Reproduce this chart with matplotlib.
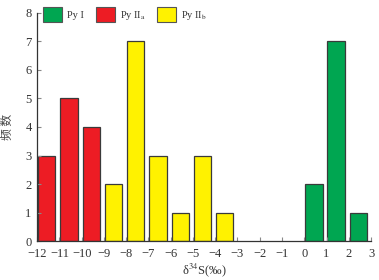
import matplotlib
matplotlib.use("Agg")
import matplotlib.pyplot as plt
from matplotlib.patches import Patch

bin_starts = [-12, -11, -10, -9, -8, -7, -6, -5, -4, 0, 1, 2]
counts = [3, 5, 4, 2, 7, 3, 1, 3, 1, 2, 7, 1]
groups = ["IIa", "IIa", "IIa", "IIb", "IIb", "IIb", "IIb", "IIb", "IIb", "I", "I", "I"]
group_colors = {"I": "#00A651", "IIa": "#ED1C24", "IIb": "#FFF200"}
legend_labels = ["Py I", "Py II$_{\\mathrm{a}}$", "Py II$_{\\mathrm{b}}$"]
legend_keys = ["I", "IIa", "IIb"]
xticks = list(range(-12, 4))
yticks = list(range(0, 9))

plt.rcParams['font.family'] = ['Liberation Serif', 'DejaVu Serif']
plt.rcParams['mathtext.fontset'] = 'stix'

fig = plt.figure(figsize=(3.79, 2.80), dpi=100)
ax = fig.add_axes([0.098, 0.139, 0.881, 0.815])

ax.bar([b + 0.04 for b in bin_starts], counts, width=0.78, align='edge',
       color=[group_colors[g] for g in groups], edgecolor='#3a3a3a', linewidth=0.9)

ax.set_xlim(-12, 3)
ax.set_ylim(0, 8)
ax.set_xticks(xticks)
ax.set_xticklabels([("\u2212" + str(-t)) if t < 0 else str(t) for t in xticks])
ax.set_yticks(yticks)
for s in ['top', 'right']:
    ax.spines[s].set_visible(False)
for s in ['left', 'bottom']:
    ax.spines[s].set_color('#333333')
    ax.spines[s].set_linewidth(0.9)
ax.tick_params(axis='both', direction='in', length=3, width=0.8, color='#888888',
               labelsize=9, labelcolor='#333333')
ax.tick_params(axis='x', pad=5)
ax.tick_params(axis='y', pad=4)

ax.set_xlabel("δ$^{34}$S(‰)", fontsize=9, color='#333333', labelpad=1)
ax.set_ylabel("频 数", fontsize=8.5, color='#444444', family=['Noto Sans CJK SC', 'DejaVu Sans'], labelpad=8)

handles = [Patch(facecolor=group_colors[k], edgecolor='#555555', linewidth=0.8) for k in legend_keys]
fig.legend(handles, legend_labels, loc='upper left', bbox_to_anchor=(0.09, 1.01), ncol=3,
           frameon=False, fontsize=7.5, handlelength=1.8, handleheight=1.9,
           handletextpad=0.5, columnspacing=1.1, labelcolor='#333333')

fig.savefig("out.png", dpi=100)
